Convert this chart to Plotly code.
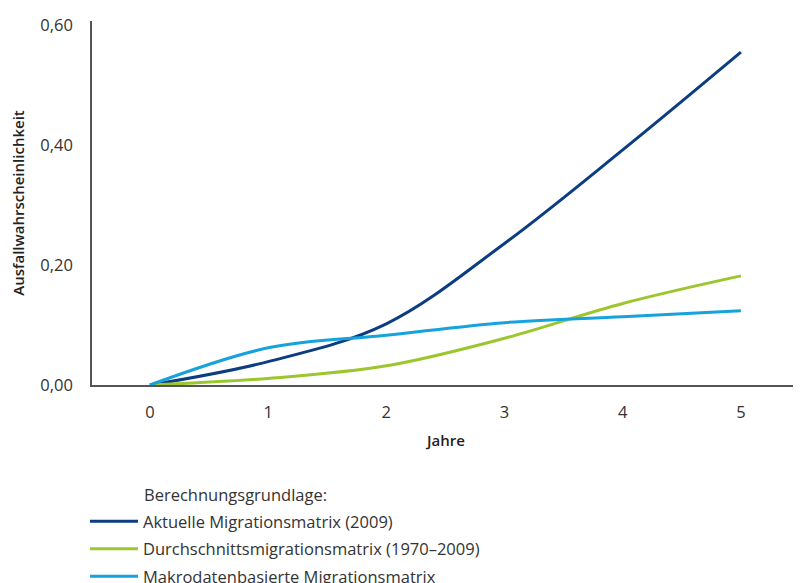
import plotly.graph_objects as go

jahre = [0, 1, 2, 3, 4, 5]
aktuell = [0.0, 0.039, 0.102, 0.236, 0.392, 0.555]
durchschnitt = [0.0, 0.011, 0.032, 0.078, 0.136, 0.182]
makro = [0.0, 0.062, 0.083, 0.104, 0.114, 0.124]

namen = ["Aktuelle Migrationsmatrix (2009)",
         "Durchschnittsmigrationsmatrix (1970–2009)",
         "Makrodatenbasierte Migrationsmatrix"]
farben = ["#0b3d80", "#9cc62e", "#16a2dc"]
x_ticks = [0, 1, 2, 3, 4, 5]
y_ticks = [0, 0.2, 0.4, 0.6]

FONT = "Open Sans, Noto Sans, sans-serif"

# page body has an 8px margin; work in figure coordinates
OFF = 8
W, H = 801 - OFF, 583 - OFF
L, R = 92 - OFF, 1
T = 21 - OFF
B = H - (385 - OFF)
PW = W - L - R
PH = H - T - B


def px_x(sx):
    return (sx - OFF - L) / PW


def px_y(sy):
    return 1 - (sy - OFF - T) / PH


fig = go.Figure()
for i, (name, ys) in enumerate(zip(namen, [aktuell, durchschnitt, makro])):
    fig.add_trace(go.Scatter(
        x=jahre, y=ys, mode="lines", name=name,
        line=dict(color=farben[i], width=3, shape="spline", smoothing=1.0),
        legendgroup=f"g{i}",
    ))

fig.update_layout(
    width=W, height=H,
    margin=dict(l=L, r=R, t=T, b=B, autoexpand=False),
    paper_bgcolor="white", plot_bgcolor="white",
    font=dict(family=FONT, size=16.5, color="#333333"),
    separators=",.",
    showlegend=True,
    legend=dict(
        x=px_x(85), xanchor="left",
        y=px_y(504), yanchor="top",
        xref="paper", yref="paper",
        font=dict(size=16.5, color="#333333", family=FONT),
        itemwidth=48, tracegroupgap=3,
        bgcolor="rgba(0,0,0,0)",
    ),
    annotations=[dict(
        text="Berechnungsgrundlage:", showarrow=False,
        xref="paper", yref="paper",
        x=px_x(142), xanchor="left",
        y=px_y(494), yanchor="middle",
        font=dict(size=16.5, color="#333333", family=FONT),
    )],
)

fig.update_xaxes(
    range=[-0.49, 5.5], tickvals=x_ticks, showgrid=False, zeroline=False,
    showline=True, linecolor="#555555", linewidth=1.5, automargin=False,
    ticks="outside", ticklen=0, ticklabelstandoff=11,
    title=dict(text="Jahre", standoff=14,
               font=dict(size=15, color="#222222", weight=600)),
)
fig.update_yaxes(
    range=[0, 0.607], tickvals=y_ticks, tickformat=".2f", showgrid=False, zeroline=False,
    showline=True, linecolor="#555555", linewidth=1.5, automargin=False,
    ticks="outside", ticklen=0, ticklabelstandoff=14,
    title=dict(text="Ausfallwahrscheinlichkeit", standoff=17,
               font=dict(size=15, color="#222222", weight=600)),
)

fig.write_html("out.html")
